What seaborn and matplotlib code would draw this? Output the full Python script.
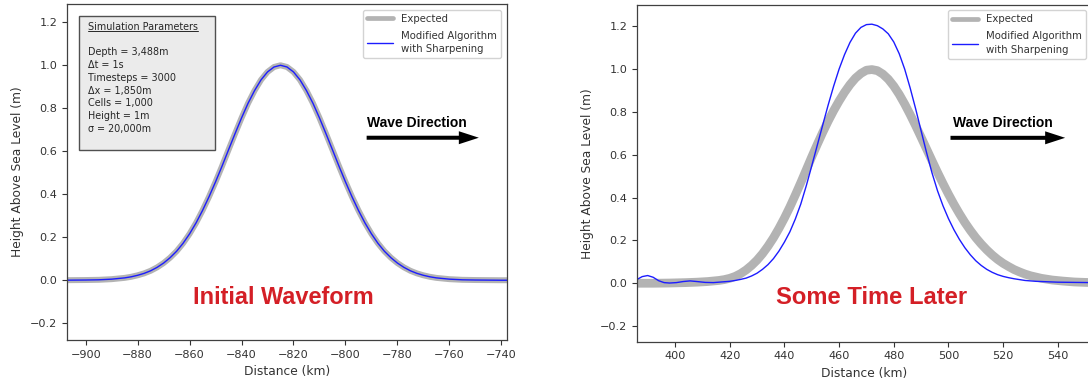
import matplotlib
matplotlib.use("Agg")
import matplotlib.pyplot as plt
import seaborn as sns
from matplotlib.patches import Rectangle, FancyArrow
from matplotlib.lines import Line2D

# ---------------- data ----------------
# Left panel: initial waveform (both series coincide)
left_x = [-910, -900, -895, -890,
          -885, -882.5, -880, -877.5, -875, -872.5, -870, -867.5, -865, -862.5, -860,
          -857.5, -855, -852.5, -850, -847.5, -845, -842.5, -840, -837.5, -835, -832.5,
          -830, -827.5, -825, -822.5, -820, -817.5, -815, -812.5, -810, -807.5, -805,
          -802.5, -800, -797.5, -795, -792.5, -790, -787.5, -785, -782.5, -780, -777.5,
          -775, -772.5, -770, -767.5, -765,
          -760, -755, -750, -740, -735]
left_expected = [0.000, 0.001, 0.002, 0.005,
                 0.011, 0.016, 0.023, 0.032, 0.044, 0.060, 0.080, 0.105, 0.135, 0.172, 0.216,
                 0.267, 0.325, 0.389, 0.458, 0.531, 0.607, 0.682, 0.755, 0.823, 0.882, 0.932,
                 0.969, 0.992, 1.000, 0.992, 0.969, 0.932, 0.882, 0.823, 0.755, 0.682, 0.607,
                 0.531, 0.458, 0.389, 0.325, 0.267, 0.216, 0.172, 0.135, 0.105, 0.080, 0.060,
                 0.044, 0.032, 0.023, 0.016, 0.011,
                 0.005, 0.002, 0.001, 0.000, 0.000]
left_modified = [0.000, 0.001, 0.002, 0.005,
                 0.011, 0.016, 0.023, 0.032, 0.044, 0.060, 0.080, 0.105, 0.135, 0.172, 0.216,
                 0.267, 0.325, 0.389, 0.458, 0.531, 0.607, 0.682, 0.755, 0.823, 0.882, 0.932,
                 0.969, 0.992, 1.000, 0.992, 0.969, 0.932, 0.882, 0.823, 0.755, 0.682, 0.607,
                 0.531, 0.458, 0.389, 0.325, 0.267, 0.216, 0.172, 0.135, 0.105, 0.080, 0.060,
                 0.044, 0.032, 0.023, 0.016, 0.011,
                 0.005, 0.002, 0.001, 0.000, 0.000]

# Right panel: some time later
right_exp_x = [386, 392, 398, 404, 408, 412, 416, 418, 420, 422, 424, 426, 428, 430, 432,
               434, 436, 438, 440, 442, 444, 446, 448, 450, 452, 454, 456, 458, 460, 462,
               464, 466, 468, 470, 472, 474, 476, 478, 480, 482, 484, 486, 488, 490, 492,
               494, 496, 498, 500, 502, 504, 506, 508, 510, 512, 514, 516, 518, 520, 522,
               524, 526, 528, 530, 534, 538, 542, 546, 550, 553]
right_exp_y = [0.000, 0.000, 0.001, 0.003, 0.005, 0.008, 0.013, 0.017, 0.023, 0.032, 0.045,
               0.062, 0.083, 0.108, 0.138, 0.173, 0.212, 0.256, 0.304, 0.356, 0.412, 0.470,
               0.530, 0.590, 0.648, 0.704, 0.757, 0.806, 0.851, 0.892, 0.928, 0.958, 0.980,
               0.995, 0.998, 0.993, 0.977, 0.953, 0.921, 0.882, 0.837, 0.788, 0.736, 0.682,
               0.627, 0.572, 0.518, 0.466, 0.416, 0.369, 0.325, 0.284, 0.247, 0.213, 0.183,
               0.156, 0.132, 0.111, 0.093, 0.078, 0.064, 0.053, 0.043, 0.035, 0.023, 0.015,
               0.010, 0.006, 0.004, 0.003]
right_mod_x = [386, 388, 390, 392, 394, 396, 398, 400.5, 403, 405.5, 408, 411, 414, 416,
               418, 420, 422, 424, 426, 428, 430, 432, 434, 436, 438, 440, 442, 444, 446,
               448, 450, 452, 454, 456, 458, 460, 462, 464, 466, 468, 470, 472, 474, 476,
               478, 480, 482, 484, 486, 488, 490, 492, 494, 496, 498, 500, 502, 504, 506,
               508, 510, 512, 514, 516, 518, 520, 522, 524, 526, 528, 532, 536, 540, 546, 553]
right_mod_y = [0.017, 0.031, 0.036, 0.028, 0.012, 0.003, 0.001, 0.003, 0.008, 0.011, 0.008,
               0.004, 0.003, 0.005, 0.007, 0.009, 0.013, 0.018, 0.024, 0.034, 0.047, 0.065,
               0.087, 0.115, 0.150, 0.192, 0.240, 0.300, 0.370, 0.455, 0.548, 0.643, 0.738,
               0.832, 0.920, 1.000, 1.068, 1.125, 1.168, 1.195, 1.208, 1.210, 1.203, 1.188,
               1.165, 1.127, 1.072, 1.000, 0.912, 0.815, 0.712, 0.610, 0.515, 0.432, 0.362,
               0.302, 0.250, 0.205, 0.166, 0.133, 0.105, 0.083, 0.065, 0.051, 0.040, 0.032,
               0.026, 0.021, 0.017, 0.013, 0.009, 0.007, 0.005, 0.004, 0.003]

x_ticks_left = [-900, -880, -860, -840, -820, -800, -780, -760, -740]
x_ticks_right = [400, 420, 440, 460, 480, 500, 520, 540]
y_ticks = [-0.2, 0.0, 0.2, 0.4, 0.6, 0.8, 1.0, 1.2]

series_labels = ["Expected", "Modified Algorithm\nwith Sharpening"]
param_title = "Simulation Parameters"
param_lines = ["Depth = 3,488m", "\u0394t = 1s", "Timesteps = 3000", "\u0394x = 1,850m",
               "Cells = 1,000", "Height = 1m", "\u03c3 = 20,000m"]

# ---------------- style ----------------
sns.set_style("ticks")
plt.rcParams['font.family'] = ['DejaVu Sans']
plt.rcParams['axes.unicode_minus'] = True

GRAY = '#b3b3b3'
BLUE = '#1c1cff'
RED = '#d41f26'
BOLD_FAMILY = ['Liberation Sans', 'DejaVu Sans']

fig = plt.figure(figsize=(10.88, 3.87), dpi=100)
axL = fig.add_axes([67/1088, 1-340/387, 440/1088, 336/387])
axR = fig.add_axes([637/1088, 1-341.7/387, (1092-637)/1088, 337/387])


def draw_panel(ax, xe, ye, xm, ym, lw_exp, xlim, ylim, xticks):
    sns.lineplot(x=xe, y=ye, ax=ax, color=GRAY, lw=lw_exp, label=series_labels[0],
                 sort=False, estimator=None)
    sns.lineplot(x=xm, y=ym, ax=ax, color=BLUE, lw=1.0, label=series_labels[1],
                 sort=False, estimator=None)
    ax.set_xlim(*xlim)
    ax.set_ylim(*ylim)
    ax.set_xticks(xticks)
    ax.set_yticks(y_ticks)
    ax.set_xlabel("Distance (km)", fontsize=8.8, color='.2')
    ax.set_ylabel("Height Above Sea Level (m)", fontsize=8.8, color='.2')
    ax.tick_params(labelsize=8.1, length=3.5, width=0.8, colors='.2')
    for s in ax.spines.values():
        s.set_linewidth(0.9)
        s.set_color('.25')
    leg = ax.legend(loc='upper right', fontsize=7.3, handlelength=2.6, framealpha=0.85,
                    borderaxespad=0.55, labelspacing=0.7)
    leg.get_lines()[0].set_linewidth(3.4)
    leg.get_lines()[1].set_linewidth(1.0)
    for t in leg.get_texts():
        t.set_color('.2')
        t.set_linespacing(1.45)
    return leg


draw_panel(axL, left_x, left_expected, left_x, left_modified, 4.3,
           (-907.2, -737.8), (-0.278, 1.285), x_ticks_left)
draw_panel(axR, right_exp_x, right_exp_y, right_mod_x, right_mod_y, 6.3,
           (386.1, 552.5), (-0.273, 1.301), x_ticks_right)

# Parameter box (left panel)
axL.add_patch(Rectangle((0.0273, 0.5655), 0.3097, 0.3985, transform=axL.transAxes,
                        facecolor='#ebebeb', edgecolor='#505050', lw=1.0, zorder=4))
title = axL.text(0.047, 0.9235, param_title, transform=axL.transAxes, fontsize=6.9,
                 va='baseline', ha='left', color='.15', zorder=5)
axL.text(0.047, 0.871, "\n".join(param_lines), transform=axL.transAxes, fontsize=6.9,
         va='top', ha='left', color='.15', linespacing=1.34, zorder=5)

# Wave direction annotations
for ax, tx, ty, ax0, ay, adx, h in [(axL, 0.681, 0.647, 0.681, 0.602, 0.255, 336),
                                    (axR, 0.694, 0.650, 0.689, 0.605, 0.252, 337)]:
    ax.text(tx, ty, "Wave Direction", transform=ax.transAxes, fontsize=10,
            fontweight='bold', family=BOLD_FAMILY, va='center', ha='left', color='black')
    w = ax.get_position().width * 1088
    ax.add_patch(FancyArrow(ax0, ay, adx, 0, width=4/h, head_width=13/h, head_length=20/w,
                            length_includes_head=True, transform=ax.transAxes,
                            color='black', lw=0, zorder=5))

axL.text(0.4916, 0.126, "Initial Waveform", transform=axL.transAxes, fontsize=16.9,
         fontweight='bold', family=BOLD_FAMILY, color=RED, ha='center', va='center')
axR.text(0.516, 0.130, "Some Time Later", transform=axR.transAxes, fontsize=17.1,
         fontweight='bold', family=BOLD_FAMILY, color=RED, ha='center', va='center')

# underline for the parameter-box title
fig.canvas.draw()
r = fig.canvas.get_renderer()
bb = title.get_window_extent(renderer=r)
inv = fig.transFigure.inverted()
(x0, y0), (x1, _) = inv.transform([(bb.x0, bb.y0 + 1.0), (bb.x1, bb.y0 + 1.0)])
fig.add_artist(Line2D([x0, x1], [y0, y0], color='.15', lw=0.7, transform=fig.transFigure,
                      zorder=6))

fig.savefig("out.png", dpi=100)
